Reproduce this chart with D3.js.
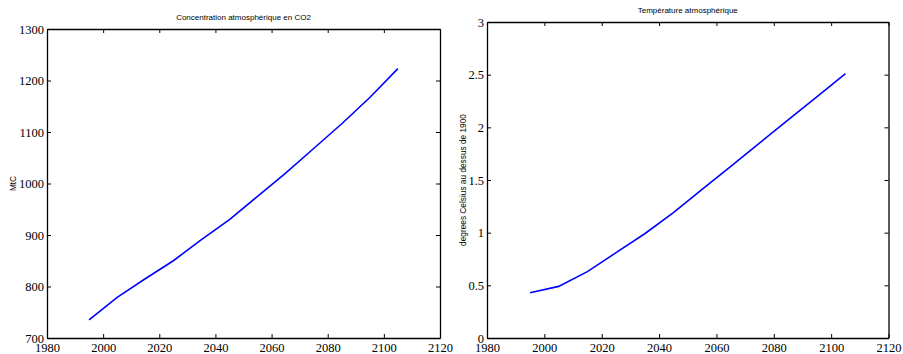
<!DOCTYPE html>
<html><head><meta charset="utf-8">
<script src="https://cdn.jsdelivr.net/npm/d3@7"></script>
<style>body{margin:0;background:#fff}svg{display:block}</style>
</head><body>
<svg id="c" width="903" height="354"></svg>
<script>
const years = [1995, 2005, 2015, 2025, 2035, 2045, 2055, 2065, 2075, 2085, 2095, 2105];
const co2 = [735, 779, 815, 850, 891, 930, 975, 1020, 1068, 1116, 1167, 1223];
const temp = [0.43, 0.49, 0.63, 0.81, 0.99, 1.19, 1.41, 1.63, 1.85, 2.07, 2.29, 2.51];
const xTicks = [1980, 2000, 2020, 2040, 2060, 2080, 2100, 2120];
const co2Ticks = [700, 800, 900, 1000, 1100, 1200, 1300];
const tempTicks = [0, 0.5, 1, 1.5, 2, 2.5, 3];

const svg = d3.select("#c");
const SERIF = "Liberation Serif, Times New Roman, serif";
const SANS = "Liberation Sans";

function panel(cfg) {
  const x = d3.scaleLinear().domain([1980, 2120]).range([cfg.x0, cfg.x1]);
  const y = d3.scaleLinear().domain(cfg.ydom).range([cfg.y1, cfg.y0]);
  const g = svg.append("g");
  const tl = 4;
  const bx = d3.axisBottom(x).tickValues(xTicks).tickFormat(d3.format("d")).tickSizeInner(-tl).tickSizeOuter(0).tickPadding(6);
  const ga = g.append("g").call(bx).attr("transform", `translate(0,${cfg.y1})`);
  const tx = d3.axisTop(x).tickValues(xTicks).tickFormat("").tickSizeInner(-tl).tickSizeOuter(0);
  const gt = g.append("g").call(tx).attr("transform", `translate(0,${cfg.y0})`);
  const ly = d3.axisLeft(y).tickValues(cfg.yticks).tickFormat(d => String(d)).tickSizeInner(-tl).tickSizeOuter(0).tickPadding(3);
  const gl = g.append("g").call(ly).attr("transform", `translate(${cfg.x0},0)`);
  const ry = d3.axisRight(y).tickValues(cfg.yticks).tickFormat("").tickSizeInner(-tl).tickSizeOuter(0);
  const gr = g.append("g").call(ry).attr("transform", `translate(${cfg.x1},0)`);
  [ga, gt, gl, gr].forEach(a => {
    a.attr("font-family", SERIF).attr("font-size", 12.5);
    a.select(".domain").attr("stroke", "#000").attr("stroke-width", 1.3);
    a.selectAll(".tick line").attr("stroke", "#000").attr("stroke-width", 1);
    a.selectAll(".tick text").attr("fill", "#000");
  });
  ga.selectAll(".tick text").attr("dy", "0.71em").attr("y", 5);
  gl.selectAll(".tick text").attr("dy", "0.32em");
  const line = d3.line().x((d, i) => x(years[i])).y(d => y(d));
  g.append("path").datum(cfg.data).attr("d", line).attr("fill", "none").attr("stroke", "#0000ff").attr("stroke-width", 1.6);
  g.append("text").attr("x", (cfg.x0 + cfg.x1) / 2).attr("y", cfg.y0 - 9).attr("text-anchor", "middle")
    .attr("font-family", SANS).attr("font-size", 8).text(cfg.title);
  g.append("text").attr("transform", `translate(${cfg.ylx},${(cfg.y0 + cfg.y1) / 2}) rotate(-90)`).attr("text-anchor", "middle")
    .attr("font-family", SANS).attr("font-size", 8.3).text(cfg.ylabel);
}

panel({x0: 47, x1: 440, y0: 29, y1: 338, ydom: [700, 1300], yticks: co2Ticks, data: co2,
  title: "Concentration atmosphérique en CO2", ylabel: "MtC", ylx: 16});
panel({x0: 487, x1: 888.5, y0: 22, y1: 338, ydom: [0, 3], yticks: tempTicks, data: temp,
  title: "Température atmosphérique", ylabel: "degrees Celsius au dessus de 1900", ylx: 466});
</script>
</body></html>
